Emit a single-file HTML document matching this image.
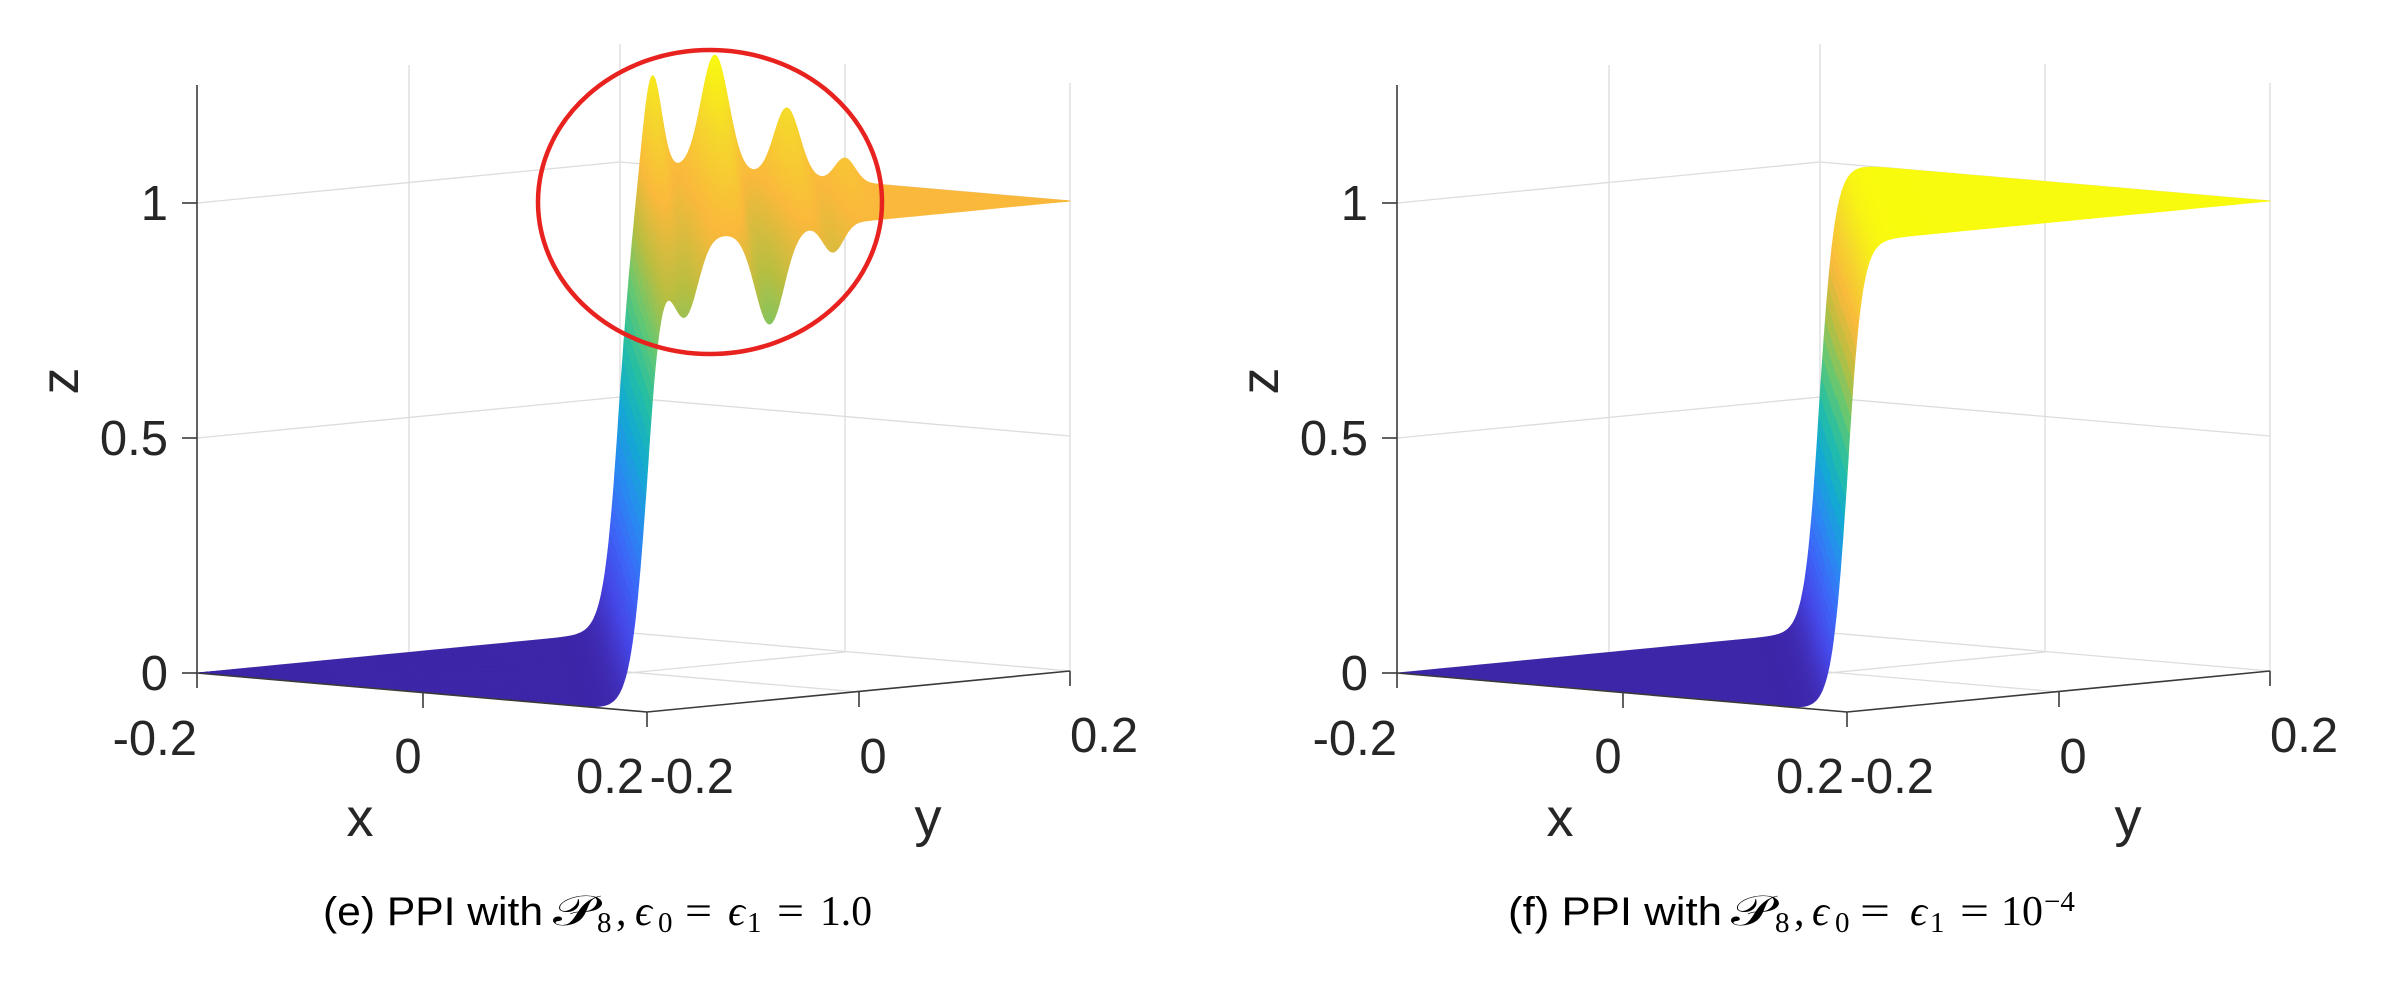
<!DOCTYPE html>
<html>
<head>
<meta charset="utf-8">
<style>
html,body{margin:0;padding:0;background:#fff;}
svg{display:block;}
.tk{font-family:"Liberation Sans",Arial,sans-serif;font-size:49px;fill:#262626;}
.lb{font-family:"Liberation Sans",Arial,sans-serif;font-size:54px;fill:#262626;}
.cs{font-family:"Liberation Sans",Arial,sans-serif;font-size:40px;fill:#000;}
.cm{font-family:"Liberation Serif","DejaVu Serif",serif;font-size:42px;fill:#000;}
.ci{font-family:"Liberation Serif","DejaVu Serif",serif;font-size:42px;font-style:italic;fill:#000;}
.cb{font-family:"Liberation Serif","DejaVu Serif",serif;font-size:29px;fill:#000;}
.cp{font-family:"DejaVu Serif","DejaVu Sans","Liberation Serif",serif;font-size:42px;fill:#000;}
</style>
</head>
<body>
<svg id="s" width="2396" height="986" viewBox="0 0 2396 986" xmlns="http://www.w3.org/2000/svg">
  <rect x="0" y="0" width="2396" height="986" fill="#fff"/>

  <!-- ================= LEFT PANEL ================= -->
  <g id="gridL" stroke="#dcdcdc" stroke-width="1.3" fill="none">
    <polyline points="197,673 620,632 1070,671"/>
    <polyline points="197,438 620,397 1070,436"/>
    <polyline points="197,203 620,162 1070,201"/>
    <line x1="409" y1="653" x2="409" y2="65"/>
    <line x1="620" y1="632" x2="620" y2="44"/>
    <line x1="845" y1="652" x2="845" y2="64"/>
    <line x1="1070" y1="671" x2="1070" y2="83"/>
    <line x1="423" y1="693" x2="845" y2="652"/>
    <line x1="859" y1="692" x2="409" y2="653"/>
  </g>
  <g id="surfL"></g>
  <g stroke="#3a3a3a" stroke-width="1.6" fill="none">
    <line x1="197" y1="85" x2="197" y2="673"/>
    <line x1="197" y1="673" x2="647" y2="712"/>
    <line x1="647" y1="712" x2="1070" y2="671"/>
    <line x1="182" y1="673" x2="197" y2="673"/>
    <line x1="182" y1="438" x2="197" y2="438"/>
    <line x1="182" y1="203" x2="197" y2="203"/>
    <line x1="197" y1="673" x2="197" y2="688"/>
    <line x1="423" y1="693" x2="423" y2="708"/>
    <line x1="647" y1="712" x2="647" y2="727"/>
    <line x1="859" y1="692" x2="859" y2="707"/>
    <line x1="1070" y1="671" x2="1070" y2="686"/>
  </g>
  <text class="tk" x="168" y="220" text-anchor="end">1</text>
  <text class="tk" x="168" y="455" text-anchor="end">0.5</text>
  <text class="tk" x="168" y="690" text-anchor="end">0</text>
  <text class="tk" x="197" y="755" text-anchor="end">-0.2</text>
  <text class="tk" x="408" y="773" text-anchor="middle">0</text>
  <text class="tk" x="576" y="793">0.2</text>
  <text class="tk" x="734" y="793" text-anchor="end">-0.2</text>
  <text class="tk" x="873" y="773" text-anchor="middle">0</text>
  <text class="tk" x="1070" y="752">0.2</text>
  <text class="lb" x="360" y="836" text-anchor="middle">x</text>
  <text class="lb" x="928" y="836" text-anchor="middle">y</text>
  <text class="lb" transform="translate(78,381) rotate(-90)" text-anchor="middle">z</text>
  <ellipse cx="710" cy="202" rx="172" ry="152" fill="none" stroke="#e8221e" stroke-width="4.5"/>

  <!-- caption (e) -->
  <text class="cs" x="323" y="925" textLength="220" lengthAdjust="spacingAndGlyphs">(e) PPI with</text>
  <text class="cp" x="553" y="925" textLength="43" lengthAdjust="spacingAndGlyphs">𝒫</text>
  <text class="cb" x="597" y="932">8</text>
  <text class="cm" x="616" y="925">,</text>
  <text class="ci" x="635" y="925">ϵ</text>
  <text class="cb" x="658" y="932">0</text>
  <text class="cm" x="685" y="925" textLength="27" lengthAdjust="spacingAndGlyphs">=</text>
  <text class="ci" x="728" y="925">ϵ</text>
  <text class="cb" x="747" y="932">1</text>
  <text class="cm" x="777" y="925" textLength="27" lengthAdjust="spacingAndGlyphs">=</text>
  <text class="cm" x="820" y="925" textLength="52" lengthAdjust="spacingAndGlyphs">1.0</text>

  <!-- ================= RIGHT PANEL ================= -->
  <g stroke="#dcdcdc" stroke-width="1.3" fill="none" transform="translate(1200,0)">
    <polyline points="197,673 620,632 1070,671"/>
    <polyline points="197,438 620,397 1070,436"/>
    <polyline points="197,203 620,162 1070,201"/>
    <line x1="409" y1="653" x2="409" y2="65"/>
    <line x1="620" y1="632" x2="620" y2="44"/>
    <line x1="845" y1="652" x2="845" y2="64"/>
    <line x1="1070" y1="671" x2="1070" y2="83"/>
    <line x1="423" y1="693" x2="845" y2="652"/>
    <line x1="859" y1="692" x2="409" y2="653"/>
  </g>
  <g id="surfR"></g>
  <g stroke="#3a3a3a" stroke-width="1.6" fill="none" transform="translate(1200,0)">
    <line x1="197" y1="85" x2="197" y2="673"/>
    <line x1="197" y1="673" x2="647" y2="712"/>
    <line x1="647" y1="712" x2="1070" y2="671"/>
    <line x1="182" y1="673" x2="197" y2="673"/>
    <line x1="182" y1="438" x2="197" y2="438"/>
    <line x1="182" y1="203" x2="197" y2="203"/>
    <line x1="197" y1="673" x2="197" y2="688"/>
    <line x1="423" y1="693" x2="423" y2="708"/>
    <line x1="647" y1="712" x2="647" y2="727"/>
    <line x1="859" y1="692" x2="859" y2="707"/>
    <line x1="1070" y1="671" x2="1070" y2="686"/>
  </g>
  <text class="tk" x="1368" y="220" text-anchor="end">1</text>
  <text class="tk" x="1368" y="455" text-anchor="end">0.5</text>
  <text class="tk" x="1368" y="690" text-anchor="end">0</text>
  <text class="tk" x="1397" y="755" text-anchor="end">-0.2</text>
  <text class="tk" x="1608" y="773" text-anchor="middle">0</text>
  <text class="tk" x="1776" y="793">0.2</text>
  <text class="tk" x="1934" y="793" text-anchor="end">-0.2</text>
  <text class="tk" x="2073" y="773" text-anchor="middle">0</text>
  <text class="tk" x="2270" y="752">0.2</text>
  <text class="lb" x="1560" y="836" text-anchor="middle">x</text>
  <text class="lb" x="2128" y="836" text-anchor="middle">y</text>
  <text class="lb" transform="translate(1278,381) rotate(-90)" text-anchor="middle">z</text>

  <!-- caption (f) -->
  <text class="cs" x="1508" y="925" textLength="214" lengthAdjust="spacingAndGlyphs">(f) PPI with</text>
  <text class="cp" x="1731" y="925" textLength="42" lengthAdjust="spacingAndGlyphs">𝒫</text>
  <text class="cb" x="1775" y="932">8</text>
  <text class="cm" x="1794" y="925">,</text>
  <text class="ci" x="1812" y="925">ϵ</text>
  <text class="cb" x="1835" y="932">0</text>
  <text class="cm" x="1860" y="925" textLength="30" lengthAdjust="spacingAndGlyphs">=</text>
  <text class="ci" x="1910" y="925">ϵ</text>
  <text class="cb" x="1930" y="932">1</text>
  <text class="cm" x="1960" y="925" textLength="29" lengthAdjust="spacingAndGlyphs">=</text>
  <text class="cm" x="2001" y="925">10</text>
  <text class="cb" x="2044" y="911">−4</text>
</svg>

<script>
(function(){
  var PAR=[[0,62,38,168],[.1,70,70,230],[.2,60,105,248],[.3,40,140,240],[.4,20,170,210],[.5,35,190,165],[.6,100,200,115],[.7,185,190,65],[.8,250,185,60],[.9,245,215,45],[1,249,251,14]];
  function col(c){
    if(c<0)c=0; if(c>1)c=1;
    for(var i=1;i<PAR.length;i++){
      if(c<=PAR[i][0]){
        var a=PAR[i-1],b=PAR[i],f=(c-a[0])/(b[0]-a[0]);
        return 'rgb('+Math.round(a[1]+f*(b[1]-a[1]))+','+Math.round(a[2]+f*(b[2]-a[2]))+','+Math.round(a[3]+f*(b[3]-a[3]))+')';
      }
    }
    return 'rgb(249,251,14)';
  }
  function S(t,w){return 0.5*(1+Math.tanh((t-1)/w));}
  function g(x,m,s){var d=(x-m)/s;return Math.exp(-0.5*d*d);}
  function ripple(t,r){
    var tau=t-1; if(tau<-0.03) return 0;
    var P=0.21*g(tau,0.071,0.02)+0.245*g(tau,0.211,0.03)+0.146*g(tau,0.371,0.028)+0.05*g(tau,0.5,0.022);
    var V=-0.16*g(tau,0.09,0.03)-0.20*g(tau,0.29,0.034)-0.06*g(tau,0.44,0.024);
    return r*P+(1-r)*V;
  }
  function uv(t,r){
    if(t<=1) return [t*(1-r), t*r];
    return [(1-r)+r*(t-1), (1-r)*(t-1)+r];
  }
  function build(id, ox, rip, cmax, w){
    var ts=[],t;
    for(t=0;t<0.85-1e-9;t+=0.05) ts.push(t);
    for(t=0.85;t<1.2-1e-9;t+=0.003) ts.push(t);
    var st=rip?0.004:0.02;
    for(t=1.2;t<1.7-1e-9;t+=st) ts.push(t);
    for(t=1.7;t<2-1e-9;t+=0.05) ts.push(t);
    ts.push(2);
    var nr=rip?40:6;
    var P=[];
    for(var i=0;i<ts.length;i++){
      var row=[];
      for(var j=0;j<=nr;j++){
        var r=j/nr, q=uv(ts[i],r);
        var z=S(ts[i],w)+(rip?ripple(ts[i],r):0);
        var base=673+39*q[0]-41*q[1];
        row.push([ox+197+450*q[0]+423*q[1], base-470*z, z, base]);
      }
      P.push(row);
    }
    var quads=[];
    for(i=0;i<ts.length-1;i++){
      for(j=0;j<nr;j++){
        var a=P[i][j],b=P[i+1][j],c=P[i+1][j+1],d=P[i][j+1];
        var zz=(a[2]+b[2]+c[2]+d[2])/4;
        var dep=(a[3]+b[3]+c[3]+d[3])/4;
        quads.push([dep, zz, a,b,c,d]);
      }
    }
    quads.sort(function(x,y){return x[0]-y[0];});
    var out=[];
    for(i=0;i<quads.length;i++){
      var qd=quads[i], cl=col(qd[1]/cmax);
      var pts=qd[2][0].toFixed(1)+','+qd[2][1].toFixed(1)+' '+qd[3][0].toFixed(1)+','+qd[3][1].toFixed(1)+' '+qd[4][0].toFixed(1)+','+qd[4][1].toFixed(1)+' '+qd[5][0].toFixed(1)+','+qd[5][1].toFixed(1);
      out.push('<polygon points="'+pts+'" fill="'+cl+'" stroke="'+cl+'"/>');
    }
    var el=document.getElementById(id);
    el.setAttribute('stroke-width','0.8');
    el.setAttribute('stroke-linejoin','round');
    el.innerHTML=out.join('');
  }
  build('surfL',0,true,1.25,0.037);
  build('surfR',1200,false,1.0,0.035);
})();
</script>
</body>
</html>
